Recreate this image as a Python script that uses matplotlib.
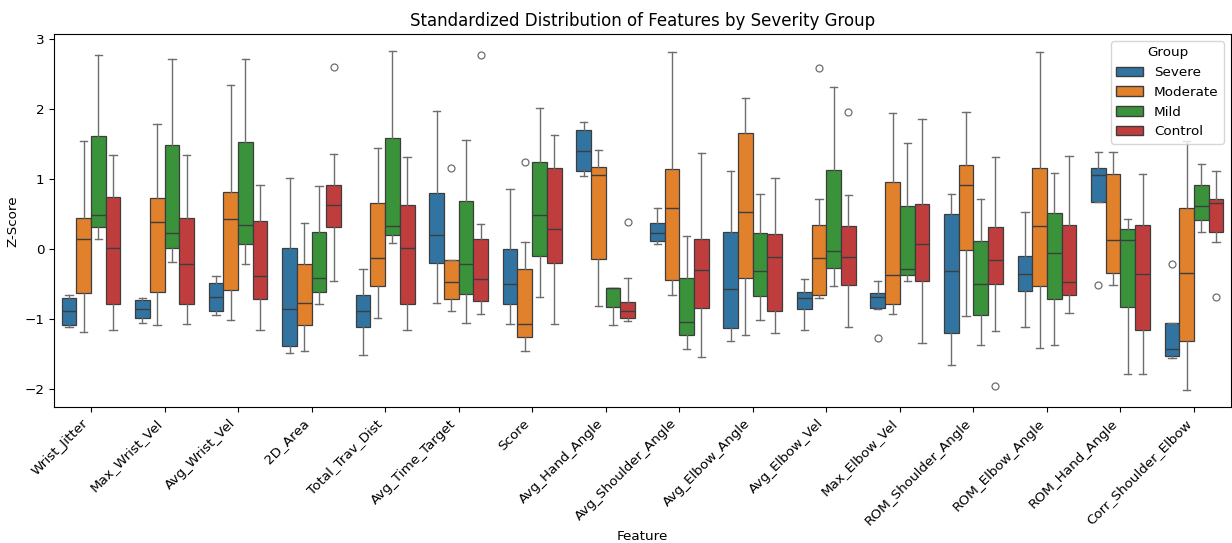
import matplotlib
matplotlib.use('Agg')
import matplotlib.pyplot as plt
from matplotlib.patches import Patch

features = ['Wrist_Jitter', 'Max_Wrist_Vel', 'Avg_Wrist_Vel', '2D_Area', 'Total_Trav_Dist',
            'Avg_Time_Target', 'Score', 'Avg_Hand_Angle', 'Avg_Shoulder_Angle', 'Avg_Elbow_Angle',
            'Avg_Elbow_Vel', 'Max_Elbow_Vel', 'ROM_Shoulder_Angle', 'ROM_Elbow_Angle',
            'ROM_Hand_Angle', 'Corr_Shoulder_Elbow']
groups = ['Severe', 'Moderate', 'Mild', 'Control']
colors = ['#3274a1', '#e1812c', '#3a923a', '#c03d3e']

# box stats per feature: (whislo, q1, median, q3, whishi)
severe = [(-1.11, -1.08, -0.89, -0.70, -0.65), (-1.05, -0.99, -0.85, -0.73, -0.70),
          (-0.94, -0.88, -0.68, -0.48, -0.38), (-1.49, -1.39, -0.85, 0.01, 1.02),
          (-1.52, -1.11, -0.88, -0.66, -0.28), (-0.77, -0.20, 0.20, 0.80, 1.97),
          (-1.07, -0.78, -0.50, 0.00, 0.86), (1.04, 1.11, 1.40, 1.70, 1.81),
          (0.07, 0.12, 0.23, 0.37, 0.59), (-1.31, -1.13, -0.57, 0.24, 1.11),
          (-1.16, -0.86, -0.70, -0.61, -0.43), (-0.85, -0.84, -0.69, -0.63, -0.46),
          (-1.65, -1.20, -0.31, 0.50, 0.79), (-1.12, -0.60, -0.35, -0.10, 0.53),
          (0.67, 0.67, 1.06, 1.16, 1.39), (-1.56, -1.53, -1.43, -1.05, -1.05)]
moderate = [(-1.18, -0.63, 0.14, 0.45, 1.54), (-1.09, -0.61, 0.39, 0.73, 1.78),
            (-1.02, -0.59, 0.43, 0.81, 2.35), (-1.46, -1.08, -0.77, -0.22, 0.37),
            (-0.98, -0.53, -0.13, 0.66, 1.44), (-0.89, -0.71, -0.47, -0.16, -0.16),
            (-1.45, -1.25, -1.07, -0.29, 0.10), (-0.81, -0.14, 1.06, 1.17, 1.42),
            (-0.66, -0.44, 0.59, 1.14, 2.81), (-1.23, -0.42, 0.53, 1.66, 2.16),
            (-0.70, -0.65, -0.13, 0.34, 0.71), (-0.93, -0.79, -0.37, 0.96, 1.95),
            (-0.95, -0.01, 0.91, 1.20, 1.96), (-1.41, -0.53, 0.33, 1.16, 2.81),
            (-0.52, -0.34, 0.13, 1.07, 1.39), (-2.02, -1.31, -0.34, 0.58, 1.55)]
mild = [(0.15, 0.31, 0.48, 1.62, 2.77), (-0.19, 0.02, 0.23, 1.48, 2.72),
        (-0.21, 0.07, 0.34, 1.53, 2.71), (-0.79, -0.61, -0.41, 0.24, 0.90),
        (0.09, 0.20, 0.33, 1.58, 2.83), (-1.05, -0.64, -0.21, 0.68, 1.56),
        (-0.68, -0.10, 0.48, 1.24, 2.02), (-1.09, -0.83, -0.56, -0.56, -0.56),
        (-1.43, -1.23, -1.04, -0.42, 0.19), (-1.01, -0.67, -0.32, 0.23, 0.78),
        (-0.53, -0.27, -0.03, 1.13, 2.31), (-0.45, -0.37, -0.29, 0.61, 1.51),
        (-1.37, -0.94, -0.50, 0.11, 0.71), (-1.37, -0.71, -0.05, 0.51, 1.09),
        (-1.79, -0.83, 0.13, 0.28, 0.43), (0.24, 0.42, 0.61, 0.91, 1.21)]
control = [(-1.15, -0.79, 0.02, 0.74, 1.35), (-1.07, -0.79, -0.22, 0.45, 1.35),
           (-1.15, -0.72, -0.38, 0.40, 0.91), (-0.46, 0.31, 0.63, 0.91, 1.36),
           (-1.15, -0.78, 0.01, 0.63, 1.31), (-0.93, -0.74, -0.43, 0.15, 0.36),
           (-1.07, -0.20, 0.29, 1.16, 1.63), (-1.03, -0.99, -0.88, -0.75, -0.41),
           (-1.54, -0.84, -0.30, 0.15, 1.37), (-1.20, -0.88, -0.12, 0.22, 1.01),
           (-1.11, -0.52, -0.12, 0.33, 0.77), (-1.34, -0.46, 0.07, 0.64, 1.86),
           (-1.17, -0.50, -0.16, 0.31, 1.31), (-0.91, -0.66, -0.47, 0.34, 1.33),
           (-1.78, -1.15, -0.36, 0.34, 1.07), (0.10, 0.25, 0.66, 0.71, 1.11)]

# outliers: (feature index, group, value)
fliers = [(3, 'Control', 2.60), (5, 'Moderate', 1.16), (5, 'Control', 2.78),
          (6, 'Moderate', 1.24), (7, 'Control', 0.38), (10, 'Moderate', 2.59),
          (10, 'Control', 1.96), (11, 'Severe', -1.27), (12, 'Control', -1.96),
          (14, 'Severe', -0.52), (15, 'Severe', -0.21), (15, 'Control', -0.68)]

edge_c = '#3d3d3d'
whisk_c = '#6e6e6e'

fig = plt.figure(figsize=(12.32, 5.43), dpi=100)
ax = fig.add_axes([0.044, 0.25, 0.955, 0.687])

offsets = [-0.3, -0.1, 0.1, 0.3]
for g, (name, data) in enumerate(zip(groups, [severe, moderate, mild, control])):
    stats = []
    for i, (lo, q1, med, q3, hi) in enumerate(data):
        fl = [v for (fi, gn, v) in fliers if fi == i and gn == name]
        stats.append(dict(whislo=lo, q1=q1, med=med, q3=q3, whishi=hi, fliers=fl))
    pos = [i + offsets[g] for i in range(len(features))]
    ax.bxp(stats, positions=pos, widths=0.2, capwidths=0.1, patch_artist=True,
           boxprops=dict(facecolor=colors[g], edgecolor=edge_c, linewidth=0.9),
           whiskerprops=dict(color=whisk_c, linewidth=1.0),
           capprops=dict(color=whisk_c, linewidth=1.0),
           medianprops=dict(color=edge_c, linewidth=1.0),
           flierprops=dict(marker='o', markerfacecolor='none', markeredgecolor=whisk_c,
                           markersize=5, markeredgewidth=0.9),
           manage_ticks=False)

ax.set_xlim(-0.5, len(features) - 0.5)
ax.set_ylim(-2.26, 3.07)
ax.set_xticks(range(len(features)))
ax.set_xticklabels(features, rotation=45, ha='right', fontsize=9.7)
ax.tick_params(axis='y', labelsize=9.7)
ax.set_xlabel('Feature', fontsize=9.7, labelpad=1)
ax.set_ylabel('Z-Score', fontsize=9.7)
ax.set_title('Standardized Distribution of Features by Severity Group', fontsize=12)

handles = [Patch(facecolor=c, edgecolor=edge_c, label=n) for c, n in zip(colors, groups)]
ax.legend(handles=handles, title='Group', loc='upper right', fontsize=9.7, title_fontsize=9.7)

fig.savefig('out.png', dpi=100)
